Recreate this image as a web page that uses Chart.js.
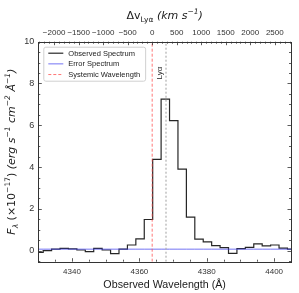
<!DOCTYPE html>
<html>
<head>
<meta charset="utf-8">
<script src="https://cdn.jsdelivr.net/npm/chart.js@4.4.0/dist/chart.umd.min.js"></script>
<style>
  html, body { margin: 0; padding: 0; background: #fff; }
</style>
</head>
<body>
<canvas id="espectroChart" width="299" height="293"></canvas>
<script>
// Bordes izquierdos de cada pixel del espectro (Å); el último es el borde derecho final
const longitudesOnda = [
    4328.95, 4331.45, 4333.95, 4336.45, 4338.95, 4341.45, 4343.95, 4346.45,
    4348.95, 4351.45, 4353.95, 4356.45, 4358.95, 4361.45, 4363.95, 4366.45,
    4368.95, 4371.45, 4373.95, 4376.45, 4378.95, 4381.45, 4383.95, 4386.45,
    4388.95, 4391.45, 4393.95, 4396.45, 4398.95, 4401.45, 4403.95, 4406.45
];
// Flujo observado (x10^-17 erg/s/cm2/Å), el último valor se repite para cerrar el escalón
const flujoObservado = [
    -0.08, 0.00, 0.07, 0.11, 0.08, 0.03, -0.05, 0.11,
    0.03, -0.14, 0.07, 0.27, 0.56, 1.49, 4.37, 7.25,
    6.22, 3.90, 1.60, 0.55, 0.42, 0.24, 0.14, -0.13,
    0.10, 0.16, 0.32, 0.23, 0.27, 0.12, 0.07, 0.07
];
const flujoError = [
    0.07, 0.07, 0.07, 0.07, 0.07, 0.07, 0.07, 0.07,
    0.07, 0.07, 0.07, 0.07, 0.07, 0.07, 0.07, 0.07,
    0.07, 0.07, 0.07, 0.07, 0.07, 0.07, 0.07, 0.07,
    0.07, 0.07, 0.07, 0.07, 0.07, 0.07, 0.07, 0.07
];
const longitudSistemica = 4363.8;   // Lyα sistémica
const longitudPicoLya = 4367.9;     // línea punteada gris
const rangoLongitud = [4330, 4405];
const rangoFlujo = [-0.53, 10];
const ticksLongitud = [4340, 4360, 4380, 4400];
const ticksVelocidad = [-2000, -1500, -1000, -500, 0, 500, 1000, 1500, 2000, 2500];
const ticksFlujo = [0, 2, 4, 6, 8, 10];
const C_KMS = 299792.458;

const FUENTE = '"Liberation Sans", Arial, sans-serif';
const FUENTE_MATH = '"DejaVu Sans", sans-serif';

const aVelocidad = l => C_KMS * (l / longitudSistemica - 1);
const conMenos = v => String(Math.round(v)).replace('-', '\u2212');
const fijarTicks = lista => s => { s.ticks = lista.map(value => ({ value })); };

// Texto con sub/superíndices
function textoRico(ctx, partes, cx, cy, angulo) {
    ctx.save();
    ctx.translate(cx, cy);
    ctx.rotate(angulo || 0);
    ctx.fillStyle = '#1a1a1a';
    ctx.textBaseline = 'alphabetic';
    const fuente = p => `${p.it ? 'italic ' : ''}${p.s}px ${p.f || FUENTE_MATH}`;
    let total = 0;
    const anchos = partes.map(p => {
        ctx.font = fuente(p);
        const w = ctx.measureText(p.t).width;
        total += w;
        return w;
    });
    let x = -total / 2;
    partes.forEach((p, i) => {
        ctx.font = fuente(p);
        ctx.fillText(p.t, x, p.dy || 0);
        x += anchos[i];
    });
    ctx.restore();
}

// Ticks hacia adentro en los cuatro lados, marco, títulos y leyenda
const marcoEjes = {
    id: 'marcoEjes',
    afterDatasetsDraw(chart) {
        const { ctx, chartArea: a, scales } = chart;
        ctx.save();
        ctx.strokeStyle = '#333';
        ctx.lineWidth = 0.8;
        const lineaX = (px, y0, len) => { ctx.beginPath(); ctx.moveTo(px, y0); ctx.lineTo(px, y0 + len); ctx.stroke(); };
        const lineaY = (py, x0, len) => { ctx.beginPath(); ctx.moveTo(x0, py); ctx.lineTo(x0 + len, py); ctx.stroke(); };

        for (let v = 4330; v <= 4405; v += 5) {
            const px = Math.round(scales.x.getPixelForValue(v)) + 0.5;
            lineaX(px, a.bottom, v % 20 === 0 ? -3.5 : -2);
        }
        for (let v = -2300; v <= 2800; v += 100) {
            const px = Math.round(scales.x2.getPixelForValue(v)) + 0.5;
            lineaX(px, a.top, v % 500 === 0 ? 3.5 : 2);
        }
        for (let v = -0.5; v <= 10; v += 0.5) {
            const py = Math.round(scales.y.getPixelForValue(v)) + 0.5;
            const len = v % 2 === 0 ? 3.5 : 2;
            lineaY(py, a.left, len);
            lineaY(py, a.right, -len);
        }
        ctx.lineWidth = 1;
        ctx.strokeRect(Math.round(a.left) + 0.5, Math.round(a.top) + 0.5,
            Math.round(a.right - a.left), Math.round(a.bottom - a.top));
        ctx.restore();

        // Etiqueta Lyα junto a la línea
        const xl = scales.x.getPixelForValue(longitudPicoLya);
        textoRico(ctx, [{ t: 'Lyα', s: 8, f: FUENTE }], xl - 4, scales.y.getPixelForValue(8.5), -Math.PI / 2);

        // Títulos de ejes
        const cx = (a.left + a.right) / 2;
        textoRico(ctx, [
            { t: 'Δv', s: 11 }, { t: 'Lyα', s: 7.5, dy: 3 },
            { t: ' (km s', s: 11, it: true }, { t: '\u22121', s: 7.5, dy: -5, it: true }, { t: ')', s: 11, it: true }
        ], cx, 18.5);
        textoRico(ctx, [{ t: 'Observed Wavelength (Å)', s: 10.7, f: FUENTE }], cx, 288);
        textoRico(ctx, [
            { t: 'F', s: 11, it: true }, { t: 'λ', s: 7.5, dy: 3, it: true },
            { t: ' (×10', s: 11 }, { t: '\u221217', s: 7.5, dy: -5 }, { t: ') ', s: 11 },
            { t: '(erg s', s: 11, it: true }, { t: '\u22121', s: 7.5, dy: -5, it: true },
            { t: ' cm', s: 11, it: true }, { t: '\u22122', s: 7.5, dy: -5, it: true },
            { t: ' Å', s: 11, it: true }, { t: '\u22121', s: 7.5, dy: -5, it: true },
            { t: ')', s: 11, it: true }
        ], 15, (a.top + a.bottom) / 2, -Math.PI / 2);

        // Leyenda
        const items = chart.data.datasets.filter(d => d.enLeyenda);
        const x0 = a.left + 5, y0 = a.top + 5, alto = 34;
        ctx.save();
        ctx.font = `7.5px ${FUENTE}`;
        const anchoTexto = Math.max(...items.map(d => ctx.measureText(d.label).width));
        const ancho = 25 + anchoTexto + 5;
        ctx.fillStyle = 'rgba(255,255,255,0.85)';
        ctx.strokeStyle = '#d0d0d0';
        ctx.lineWidth = 1;
        ctx.beginPath();
        ctx.roundRect(x0 + 0.5, y0 + 0.5, ancho, alto, 2);
        ctx.fill();
        ctx.stroke();
        ctx.textBaseline = 'middle';
        items.forEach((d, i) => {
            const yy = y0 + 6.5 + i * 10.67;
            ctx.strokeStyle = d.borderColor;
            ctx.lineWidth = d.borderWidth;
            ctx.setLineDash(d.borderDash || []);
            ctx.beginPath();
            ctx.moveTo(x0 + 5, yy);
            ctx.lineTo(x0 + 20, yy);
            ctx.stroke();
            ctx.setLineDash([]);
            ctx.fillStyle = '#222';
            ctx.fillText(d.label, x0 + 25, yy + 0.5);
        });
        ctx.restore();
    }
};

const puntos = ys => longitudesOnda.map((x, i) => ({ x, y: ys[i] }));
const lineaVertical = x => [{ x, y: rangoFlujo[0] }, { x, y: rangoFlujo[1] }];

const ctx = document.getElementById('espectroChart').getContext('2d');
new Chart(ctx, {
    type: 'line',
    data: {
        datasets: [
            {
                label: 'Observed Spectrum',
                data: puntos(flujoObservado),
                borderColor: '#262626',
                borderWidth: 1.2,
                stepped: 'before',
                enLeyenda: true,
                order: 4
            },
            {
                label: 'Error Spectrum',
                data: puntos(flujoError),
                borderColor: 'rgba(70,70,240,0.75)',
                borderWidth: 1,
                stepped: 'before',
                enLeyenda: true,
                order: 3
            },
            {
                label: 'Systemic Wavelength',
                data: lineaVertical(longitudSistemica),
                borderColor: 'rgba(255,60,60,0.7)',
                borderWidth: 1,
                borderDash: [3, 2],
                enLeyenda: true,
                order: 1
            },
            {
                label: 'Lyα',
                data: lineaVertical(longitudPicoLya),
                borderColor: '#b0b0b0',
                borderWidth: 1.2,
                borderDash: [2, 2],
                enLeyenda: false,
                order: 2
            }
        ]
    },
    options: {
        responsive: false,
        animation: false,
        events: [],
        layout: { padding: { right: 8 } },
        elements: { point: { radius: 0 }, line: { tension: 0 } },
        plugins: { legend: { display: false }, tooltip: { enabled: false } },
        scales: {
            x: {
                type: 'linear',
                position: 'bottom',
                min: rangoLongitud[0],
                max: rangoLongitud[1],
                grid: { display: false, drawTicks: false },
                border: { display: false },
                afterBuildTicks: fijarTicks(ticksLongitud),
                ticks: {
                    autoSkip: false, maxRotation: 0,
                    padding: 5, color: '#333', font: { family: FUENTE, size: 8 },
                    callback: v => conMenos(v)
                },
                afterFit: s => { s.height = 31.3; s.paddingLeft = 0; s.paddingRight = 0; }
            },
            x2: {
                type: 'linear',
                position: 'top',
                min: aVelocidad(rangoLongitud[0]),
                max: aVelocidad(rangoLongitud[1]),
                grid: { display: false, drawTicks: false },
                border: { display: false },
                afterBuildTicks: fijarTicks(ticksVelocidad),
                ticks: {
                    autoSkip: false, maxRotation: 0,
                    padding: 4, color: '#333', font: { family: FUENTE, size: 8 },
                    callback: v => conMenos(v)
                },
                afterFit: s => { s.height = 41.7; s.paddingLeft = 0; s.paddingRight = 0; }
            },
            y: {
                type: 'linear',
                min: rangoFlujo[0],
                max: rangoFlujo[1],
                grid: { display: false, drawTicks: false },
                border: { display: false },
                afterBuildTicks: fijarTicks(ticksFlujo),
                ticks: {
                    autoSkip: false,
                    padding: 4, color: '#333', font: { family: FUENTE, size: 9 },
                    callback: v => conMenos(v)
                },
                afterFit: s => { s.width = 38.3; s.paddingTop = 0; s.paddingBottom = 0; }
            }
        }
    },
    plugins: [marcoEjes]
});
</script>
</body>
</html>
